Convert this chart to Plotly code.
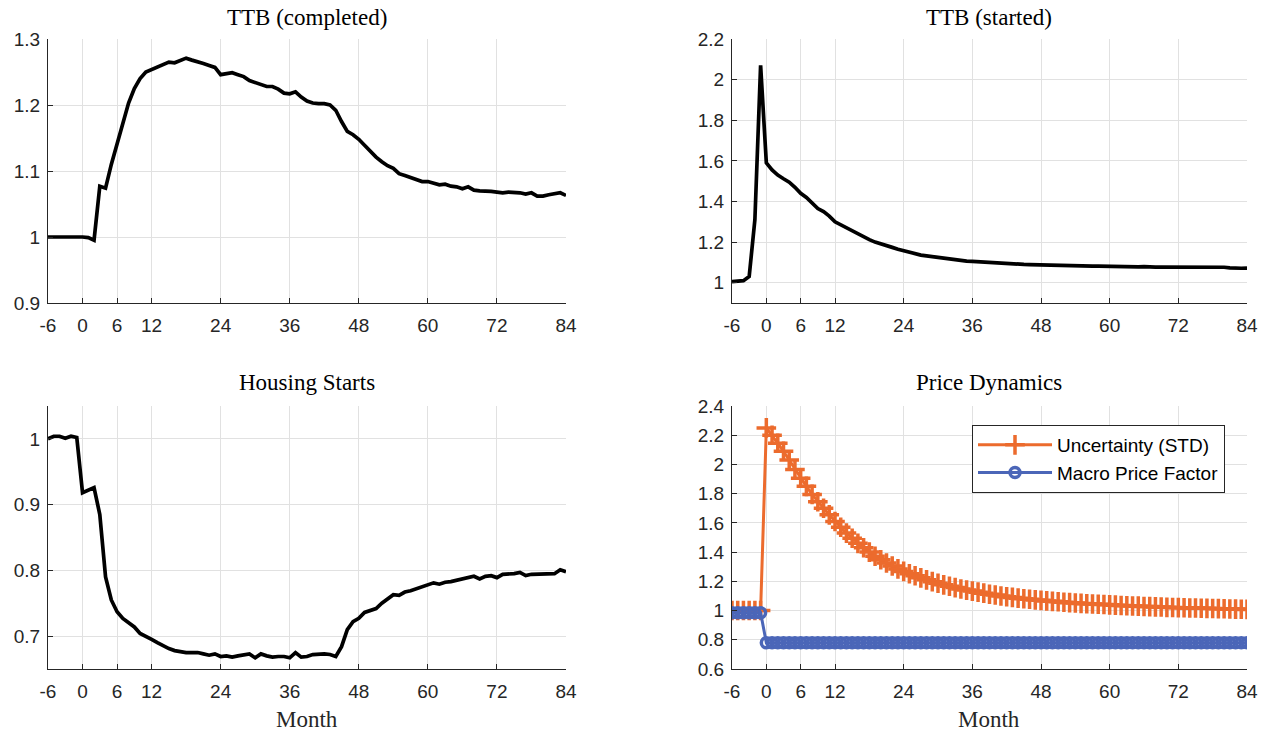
import plotly.graph_objects as go

months = list(range(-6, 85))
x_ticks = [-6, 0, 6, 12, 24, 36, 48, 60, 72, 84]

ttb_completed = [
    1.000, 1.000, 1.001, 1.000, 1.000, 1.000,  # -6..-1
    1.000, 0.999, 0.995, 1.077, 1.074, 1.110, 1.140, 1.168, 1.203, 1.225,  # 0..9
    1.240, 1.250, 1.254, 1.257, 1.262, 1.265, 1.264, 1.268, 1.271, 1.268,  # 10..19
    1.266, 1.263, 1.260, 1.257, 1.246, 1.248, 1.249, 1.246, 1.243, 1.237,  # 20..29
    1.234, 1.232, 1.228, 1.228, 1.224, 1.218, 1.217, 1.220, 1.212, 1.206,  # 30..39
    1.203, 1.202, 1.202, 1.200, 1.192, 1.175, 1.160, 1.155, 1.148, 1.139,  # 40..49
    1.130, 1.121, 1.114, 1.108, 1.104, 1.096, 1.093, 1.090, 1.086, 1.084,  # 50..59
    1.084, 1.082, 1.079, 1.080, 1.077, 1.076, 1.073, 1.076, 1.071, 1.070,  # 60..69
    1.070, 1.069, 1.068, 1.067, 1.068, 1.068, 1.067, 1.065, 1.067, 1.062,  # 70..79
    1.062, 1.064, 1.066, 1.067, 1.063,  # 80..84
]

ttb_started = [
    1.005, 1.006, 1.010, 1.030, 1.310, 2.070,  # -6..-1
    1.590, 1.555, 1.530, 1.512, 1.495, 1.470, 1.440, 1.420, 1.392, 1.365,  # 0..9
    1.350, 1.328, 1.300, 1.285, 1.268, 1.253, 1.240, 1.227, 1.212, 1.200,  # 10..19
    1.190, 1.182, 1.174, 1.165, 1.157, 1.152, 1.144, 1.136, 1.132, 1.128,  # 20..29
    1.124, 1.120, 1.117, 1.113, 1.109, 1.106, 1.105, 1.103, 1.100, 1.098,  # 30..39
    1.097, 1.096, 1.094, 1.093, 1.091, 1.090, 1.089, 1.088, 1.088, 1.087,  # 40..49
    1.086, 1.086, 1.085, 1.084, 1.084, 1.084, 1.083, 1.082, 1.082, 1.081,  # 50..59
    1.081, 1.080, 1.080, 1.080, 1.079, 1.078, 1.079, 1.076, 1.077, 1.077,  # 60..69
    1.077, 1.077, 1.078, 1.077, 1.077, 1.078, 1.078, 1.079, 1.080, 1.078,  # 70..79
    1.076, 1.073, 1.071, 1.071, 1.072,  # 80..84
]

housing_starts = [
    1.000, 1.004, 1.004, 1.001, 1.004, 1.002,  # -6..-1
    0.918, 0.922, 0.926, 0.885, 0.790, 0.755, 0.737, 0.727, 0.721, 0.714,  # 0..9
    0.704, 0.700, 0.695, 0.690, 0.685, 0.681, 0.678, 0.676, 0.675, 0.675,  # 10..19
    0.675, 0.673, 0.671, 0.673, 0.669, 0.670, 0.668, 0.670, 0.672, 0.673,  # 20..29
    0.667, 0.673, 0.670, 0.668, 0.669, 0.669, 0.667, 0.675, 0.668, 0.669,  # 30..39
    0.672, 0.673, 0.673, 0.672, 0.669, 0.684, 0.710, 0.722, 0.727, 0.736,  # 40..49
    0.739, 0.742, 0.750, 0.756, 0.763, 0.762, 0.767, 0.769, 0.772, 0.776,  # 50..59
    0.779, 0.781, 0.779, 0.782, 0.783, 0.785, 0.787, 0.789, 0.791, 0.787,  # 60..69
    0.791, 0.792, 0.789, 0.794, 0.794, 0.795, 0.797, 0.792, 0.794, 0.794,  # 70..79
    0.794, 0.795, 0.795, 0.801, 0.798,  # 80..84
]

uncertainty_std = [
    1.000, 1.000, 1.000, 1.000, 1.000, 1.000,  # -6..-1
    2.250, 2.200, 2.145, 2.090, 2.030, 1.965, 1.905, 1.850, 1.795, 1.745,  # 0..9
    1.700, 1.655, 1.610, 1.570, 1.530, 1.495, 1.460, 1.430, 1.400, 1.372,  # 10..19
    1.348, 1.325, 1.305, 1.285, 1.268, 1.252, 1.238, 1.224, 1.210, 1.198,  # 20..29
    1.187, 1.176, 1.166, 1.157, 1.148, 1.140, 1.133, 1.126, 1.119, 1.112,  # 30..39
    1.106, 1.100, 1.095, 1.090, 1.085, 1.081, 1.077, 1.073, 1.070, 1.066,  # 40..49
    1.063, 1.060, 1.057, 1.054, 1.052, 1.049, 1.047, 1.045, 1.043, 1.041,  # 50..59
    1.039, 1.037, 1.035, 1.033, 1.031, 1.030, 1.028, 1.027, 1.025, 1.024,  # 60..69
    1.022, 1.021, 1.020, 1.019, 1.018, 1.017, 1.016, 1.015, 1.014, 1.013,  # 70..79
    1.012, 1.011, 1.010, 1.009, 1.008,  # 80..84
]

macro_price_factor = [0.985] * 6 + [0.780] * 85

titles = ["TTB (completed)", "TTB (started)", "Housing Starts", "Price Dynamics"]
legend_names = ["Uncertainty (STD)", "Macro Price Factor"]

W, H = 1270, 736
AX = "#262626"
GRID = "#E1E1E1"
ORANGE = "#EC6B2D"
BLUE = "#4B66B8"
SANS = "Liberation Sans, Arial, sans-serif"
TICKFONT = dict(family=SANS, size=19, color=AX)
SERIF = "Liberation Serif, Times New Roman, serif"

# panel pixel boxes: (left, right, top, bottom)
boxes = [(48, 566, 39, 303), (732, 1247, 39, 303), (48, 566, 406, 669), (732, 1247, 406, 669)]


def xd(l, r):
    return [l / W, r / W]


def yd(t, b):
    return [1 - b / H, 1 - t / H]


fig = go.Figure()

black_line = dict(color="black", width=3.7)
fig.add_trace(go.Scatter(x=months, y=ttb_completed, mode="lines", line=black_line,
                         showlegend=False, xaxis="x", yaxis="y"))
fig.add_trace(go.Scatter(x=months, y=ttb_started, mode="lines", line=black_line,
                         showlegend=False, xaxis="x2", yaxis="y2"))
fig.add_trace(go.Scatter(x=months, y=housing_starts, mode="lines", line=black_line,
                         showlegend=False, xaxis="x3", yaxis="y3"))
fig.add_trace(go.Scatter(x=months, y=uncertainty_std, mode="lines+markers", name=legend_names[0],
                         line=dict(color=ORANGE, width=3),
                         marker=dict(symbol="cross-thin", size=14, color=ORANGE,
                                     line=dict(color=ORANGE, width=3.5)),
                         xaxis="x4", yaxis="y4"))
fig.add_trace(go.Scatter(x=months, y=macro_price_factor, mode="lines+markers", name=legend_names[1],
                         line=dict(color=BLUE, width=3),
                         marker=dict(symbol="circle-open", size=10, color=BLUE,
                                     line=dict(color=BLUE, width=3.5)),
                         xaxis="x4", yaxis="y4"))

y_ranges = [[0.9, 1.3], [0.9, 2.2], [0.65, 1.05], [0.6, 2.4]]
y_tickvals = [
    [0.9, 1.0, 1.1, 1.2, 1.3],
    [1.0, 1.2, 1.4, 1.6, 1.8, 2.0, 2.2],
    [0.7, 0.8, 0.9, 1.0],
    [0.6, 0.8, 1.0, 1.2, 1.4, 1.6, 1.8, 2.0, 2.2, 2.4],
]


def fmt(v):
    s = f"{v:.1f}"
    return s[:-2] if s.endswith(".0") else s


layout = dict(
    width=W, height=H, margin=dict(l=0, r=0, t=0, b=0, pad=0, autoexpand=False),
    paper_bgcolor="white", plot_bgcolor="white",
    legend=dict(x=972 / W, y=1 - 425 / H, xanchor="left", yanchor="top",
                bordercolor="#262626", borderwidth=1, bgcolor="white",
                font=dict(family=SANS, size=19, color="black"),
                tracegroupgap=0, itemwidth=74),
)

for i, (l, r, t, b) in enumerate(boxes):
    sfx = "" if i == 0 else str(i + 1)
    layout["xaxis" + sfx] = dict(
        domain=xd(l, r), range=[-6, 84], tickvals=x_ticks, ticktext=[str(v) for v in x_ticks],
        showgrid=True, gridcolor=GRID, gridwidth=1, zeroline=False, automargin=False,
        showline=True, linecolor=AX, linewidth=1, ticks="inside", ticklen=5, tickcolor=AX,
        tickfont=TICKFONT, anchor="y" + sfx, mirror=False, ticklabelstandoff=5,
    )
    layout["yaxis" + sfx] = dict(
        domain=yd(t, b), range=y_ranges[i], tickvals=y_tickvals[i],
        ticktext=[fmt(v) for v in y_tickvals[i]],
        showgrid=True, gridcolor=GRID, gridwidth=1, zeroline=False, automargin=False,
        showline=True, linecolor=AX, linewidth=1, ticks="inside", ticklen=5, tickcolor=AX,
        tickfont=TICKFONT, anchor="x" + sfx, mirror=False, ticklabelstandoff=3,
    )

annotations = []
title_pos = [(307, 17), (989, 17), (307, 383), (989, 383)]
for txt, (cx, cy) in zip(titles, title_pos):
    annotations.append(dict(text=txt, x=cx / W, y=1 - cy / H, xref="paper", yref="paper",
                            xanchor="center", yanchor="middle", showarrow=False,
                            font=dict(family=SERIF, size=23, color="black")))
for cx in (307, 989):
    annotations.append(dict(text="Month", x=cx / W, y=1 - 719 / H, xref="paper", yref="paper",
                            xanchor="center", yanchor="middle", showarrow=False,
                            font=dict(family=SERIF, size=23, color="#262626")))
layout["annotations"] = annotations

fig.update_layout(**layout)
fig.write_html("out.html")
